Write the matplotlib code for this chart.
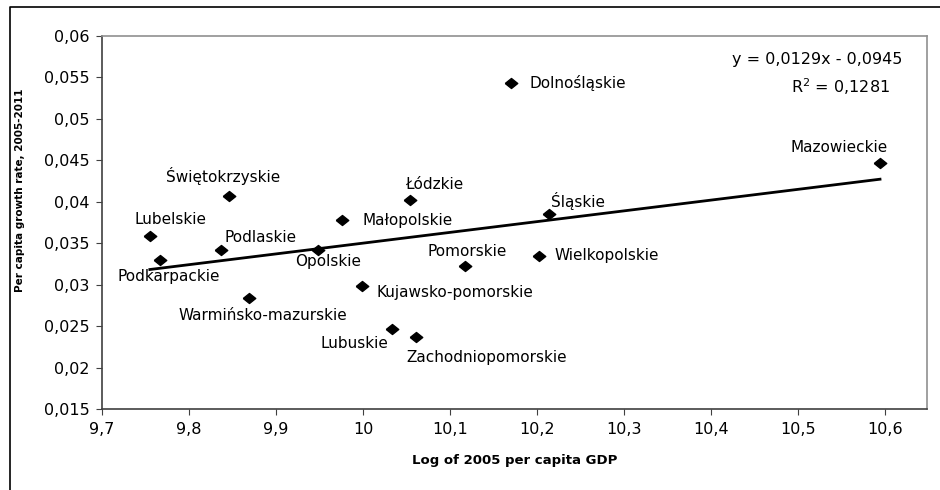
import matplotlib.pyplot as plt
from matplotlib.ticker import FuncFormatter, MultipleLocator
from matplotlib.lines import Line2D
import numpy as np

# regions: log of 2005 GDP per capita vs. growth rate 2005-2011
regions = ['Lubelskie', 'Podkarpackie', 'Podlaskie', 'Świętokrzyskie',
           'Warmińsko-mazurskie', 'Opolskie', 'Małopolskie', 'Kujawsko-pomorskie',
           'Lubuskie', 'Łódzkie', 'Zachodniopomorskie', 'Pomorskie',
           'Dolnośląskie', 'Wielkopolskie', 'Śląskie', 'Mazowieckie']
log_gdp = [9.755, 9.767, 9.837, 9.846, 9.869, 9.948, 9.976, 9.999,
           10.033, 10.054, 10.061, 10.117, 10.170, 10.202, 10.214, 10.594]
growth = [0.0359, 0.0330, 0.0342, 0.0407, 0.0284, 0.0342, 0.0378, 0.0298,
          0.0247, 0.0402, 0.0237, 0.0323, 0.0543, 0.0335, 0.0385, 0.0447]

# label offsets in pixels (dx, dy), dy positive = up
label_off = {
    'Lubelskie': (21, 16), 'Podkarpackie': (8, -17), 'Podlaskie': (39, 12),
    'Świętokrzyskie': (-6, 20), 'Warmińsko-mazurskie': (14, -18),
    'Opolskie': (10, -12), 'Małopolskie': (65, 0), 'Kujawsko-pomorskie': (93, -6),
    'Lubuskie': (-37, -15), 'Łódzkie': (24, 16), 'Zachodniopomorskie': (71, -21),
    'Pomorskie': (2, 14), 'Dolnośląskie': (67, 0), 'Wielkopolskie': (68, 0),
    'Śląskie': (29, 13), 'Mazowieckie': (-41, 15),
}

slope, intercept = 0.0129, -0.0945
r2 = 0.1281

fig = plt.figure(figsize=(9.4, 4.9), dpi=100)
ax = fig.add_axes([102/940, 1 - 409/490, 825/940, 373/490])

diamond = [(-1, 0), (0, 0.8), (1, 0), (0, -0.8), (-1, 0)]
ax.plot(log_gdp, growth, linestyle='none', marker=diamond, markersize=9,
        color='black', zorder=3)

xs = np.array([min(log_gdp), max(log_gdp)])
fit = np.polyfit(log_gdp, growth, 1)
ax.plot(xs, np.polyval(fit, xs), color='black', lw=2, zorder=2)

for name, x, y in zip(regions, log_gdp, growth):
    dx, dy = label_off[name]
    ax.annotate(name, (x, y), xytext=(dx, dy), textcoords='offset pixels',
                ha='center', va='center', fontsize=11)

ax.text(817, 490 - 59, 'y = 0,0129x - 0,0945', transform=None,
        ha='center', va='center', fontsize=11.5)
ax.text(840, 490 - 87, 'R$^2$ = 0,1281', transform=None,
        ha='center', va='center', fontsize=11.5)

ax.set_xlim(9.7, 10.648)
ax.set_ylim(0.015, 0.06)
ax.xaxis.set_major_locator(MultipleLocator(0.1))
ax.yaxis.set_major_locator(MultipleLocator(0.005))
fmt = FuncFormatter(lambda v, p: f'{round(v, 4):g}'.replace('.', ','))
ax.xaxis.set_major_formatter(fmt)
ax.yaxis.set_major_formatter(fmt)
ax.tick_params(direction='out', length=4, color='#404040', labelsize=11.5, pad=5)

for s in ['left', 'bottom']:
    ax.spines[s].set_color('#404040')
    ax.spines[s].set_linewidth(1.2)
for s in ['top', 'right']:
    ax.spines[s].set_color('#909090')
    ax.spines[s].set_linewidth(1.2)

ax.set_xlabel('Log of 2005 per capita GDP', fontsize=9.5, fontweight='bold')
ax.xaxis.set_label_coords((515 - 102) / 825, (409 - 454) / 373)
ax.set_ylabel('Per capita growth rate, 2005-2011', fontsize=7.5, fontweight='bold')
ax.yaxis.set_label_coords((25 - 102) / 825, (409 - 190) / 373)

# outer chart border (only left and top visible)
fig.add_artist(Line2D([9.5/940, 9.5/940, 1.0], [0, 1 - 7/490, 1 - 7/490],
                      transform=fig.transFigure, color='black', lw=1.2))

fig.savefig('out.png', dpi=100)
